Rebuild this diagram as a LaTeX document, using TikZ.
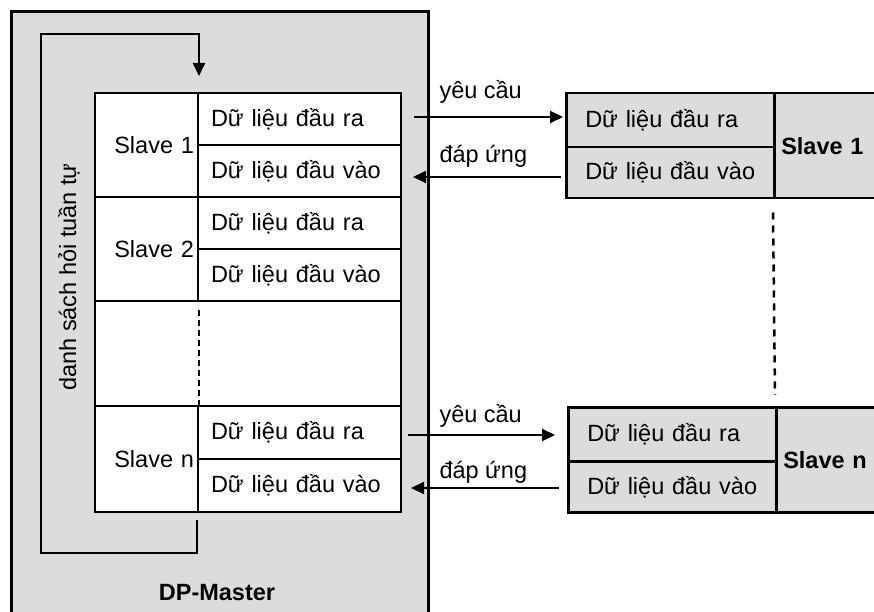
\documentclass[tikz,border=0pt]{standalone}
\usepackage{fontspec}
\setmainfont{Liberation Sans}
\usetikzlibrary{arrows.meta}
\definecolor{boxgray}{RGB}{220,220,220}

\begin{document}
\begin{tikzpicture}[x=1pt, y=-1pt, font=\fontsize{23.5}{28}\selectfont,
    cell/.style={draw, line width=2pt, fill=white, inner sep=0pt, anchor=north west},
    lbl/.style={cell, minimum width=103pt, minimum height=104pt, text width=95pt, align=right},
    dat/.style={cell, minimum width=203pt, minimum height=52pt, text width=177pt, align=left},
    rdat/.style={cell, fill=boxgray, line width=2.5pt, minimum width=208pt, text width=170pt, align=left},
    rname/.style={cell, fill=boxgray, line width=2.5pt, minimum width=120pt, minimum height=105pt, text width=106pt, align=left, font=\fontsize{23.5}{28}\selectfont\bfseries},
    arr/.style={line width=2pt, -{Triangle[length=13pt, width=12pt]}},
    dots/.style={line width=2.5pt, dash pattern=on 6pt off 4pt}]
    \useasboundingbox (0,0) rectangle (874,612);
    \clip (0,0) rectangle (874,612);

    % DP-Master outline
    \draw[line width=3pt, fill=boxgray] (11,12) rectangle (428,650);
    \node[font=\fontsize{23.5}{28}\selectfont\bfseries] (mname) at (217,593) {DP-Master};

    % Polling list loop
    \node[rotate=90] (plist) at (69,277) {danh sách hỏi tuần tự};
    \coordinate (loopstart) at (197,520);
    \coordinate (loopbl) at (41,553);
    \coordinate (looptl) at (41,34);

    % Slave table in the master
    \node[lbl] (m1l) at (94,92) {Slave 1};
    \node[dat] (m1o) at (197,92) {Dữ liệu đầu ra};
    \node[dat] (m1i) at (197,144) {Dữ liệu đầu vào};
    \node[lbl] (m2l) at (94,196) {Slave 2};
    \node[dat] (m2o) at (197,196) {Dữ liệu đầu ra};
    \node[dat] (m2i) at (197,248) {Dữ liệu đầu vào};
    \node[cell, minimum width=306pt, minimum height=105pt] (mgap) at (94,300) {};
    \node[lbl, minimum height=106pt] (mnl) at (94,405) {Slave n};
    \node[dat, minimum height=53pt] (mno) at (197,405) {Dữ liệu đầu ra};
    \node[dat, minimum height=53pt] (mni) at (197,458) {Dữ liệu đầu vào};
    \draw[dots, line width=2pt] ([yshift=-8pt]m2l.south east) -- (mnl.north east);

    \draw[arr] (loopstart) |- (loopbl) -- (looptl) -| ([yshift=16pt]m1l.north east);

    % Remote slave 1
    \node[rdat, minimum height=54pt] (s1o) at (565,92) {Dữ liệu đầu ra};
    \node[rdat, minimum height=51pt] (s1i) at (565,146) {Dữ liệu đầu vào};
    \node[rname] (s1n) at (773,92) {Slave 1};

    % Remote slave n
    \node[rdat, minimum height=54pt] (sno) at (567,406) {Dữ liệu đầu ra};
    \node[rdat, minimum height=51pt] (sni) at (567,460) {Dữ liệu đầu vào};
    \node[rname] (snn) at (775,406) {Slave n};
    \draw[dots, dash pattern=on 7pt off 6pt] ([yshift=-13pt]s1n.south west) -- ([yshift=11pt]snn.north west);

    % Requests and responses
    \coordinate (q1) at (414,117);
    \coordinate (p1) at (413,177);
    \coordinate (qn) at (408,435);
    \coordinate (pn) at (411,488);
    \draw[arr, shorten >=2pt] (q1) -- (q1 -| s1o.west);
    \draw[arr, shorten <=4pt] (p1 -| s1i.west) -- (p1);
    \draw[arr, shorten >=12pt] (qn) -- (qn -| sno.west);
    \draw[arr, shorten <=8pt] (pn -| sni.west) -- (pn);
    \node[anchor=base west] (q1l) at (436,99) {yêu cầu};
    \node[anchor=base west] (p1l) at (436,163) {đáp ứng};
    \node[anchor=base west] (qnl) at (436,422) {yêu cầu};
    \node[anchor=base west] (pnl) at (436,478) {đáp ứng};
\end{tikzpicture}
\end{document}
